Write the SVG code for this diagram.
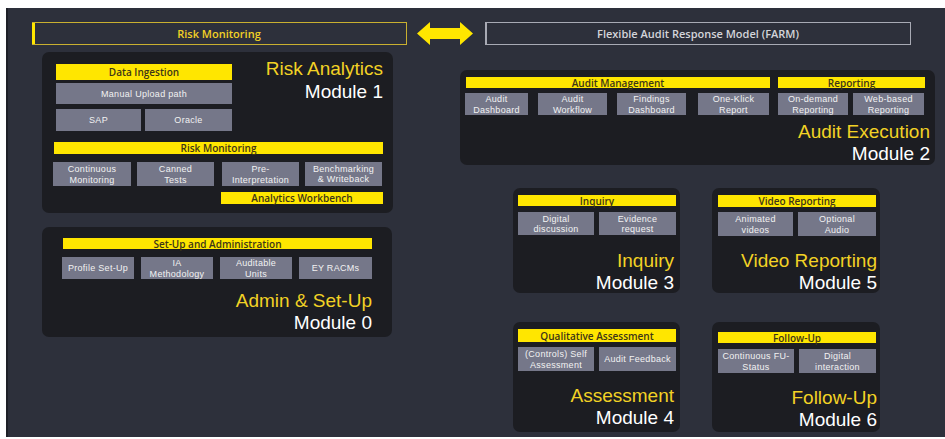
<svg xmlns="http://www.w3.org/2000/svg" width="945" height="439" viewBox="0 0 945 439">
<defs>
<style>
.bg{fill:#2d303b}
.mod{fill:#1c1d22}
.bar{fill:#ffe600}
.box{fill:#757789}
.bt{font-family:"Open Sans","Liberation Sans",sans-serif;font-size:10px;font-weight:600;fill:#3d3517;text-anchor:middle}
.bx{font-family:"Liberation Sans","Open Sans",sans-serif;font-size:9px;letter-spacing:0.3px;fill:#f2f2f2;text-anchor:middle}
.ti{font-family:"Liberation Sans","Open Sans",sans-serif;font-size:19px;fill:#f2d225;text-anchor:end}
.mo{font-family:"Liberation Sans","Open Sans",sans-serif;font-size:19px;fill:#ffffff;text-anchor:end}
.hd{font-family:"Open Sans","Liberation Sans",sans-serif;font-size:11px;font-weight:600;text-anchor:middle}
</style>
</defs>
<rect x="0" y="0" width="945" height="439" fill="#ffffff"/>
<rect class="bg" x="6" y="8" width="939" height="429"/>
<rect x="6" y="8" width="2" height="429" fill="#1e2027"/>

<g id="header-risk">
<rect x="32.5" y="22.5" width="374" height="22" fill="none" stroke="#c9b030" stroke-width="1"/>
<rect x="32" y="23" width="3" height="21" fill="#ffe600"/>
<text class="hd" x="219" y="38" fill="#f2d225">Risk Monitoring</text>
</g>
<g id="header-farm">
<rect x="485.5" y="22.5" width="425" height="22" fill="none" stroke="#a8aab4" stroke-width="1"/>
<rect x="485" y="23" width="2" height="21" fill="#a8aab4"/>
<text class="hd" x="698" y="38" fill="#d4d5da">Flexible Audit Response Model (FARM)</text>
</g>
<g id="connectors">
<polygon points="417,33.5 430,22 430,28 460,28 460,22 473,33.5 460,45 460,39 430,39 430,45" fill="#ffe600"/>
</g>

<g id="module1">
<rect class="mod" x="42" y="52" width="351" height="161" rx="7"/>
<rect class="bar" x="56" y="64" width="176" height="16"/>
<text class="bt" x="144" y="76">Data Ingestion</text>
<rect class="box" x="56" y="83" width="176" height="21"/>
<text class="bx" x="144" y="97">Manual Upload path</text>
<rect class="box" x="56" y="109" width="85" height="22"/>
<text class="bx" x="98.5" y="123">SAP</text>
<rect class="box" x="145" y="109" width="87" height="22"/>
<text class="bx" x="188.5" y="123">Oracle</text>
<text class="ti" x="383" y="75">Risk Analytics</text>
<text class="mo" x="383" y="98">Module 1</text>
<rect class="bar" x="54" y="142" width="329" height="12"/>
<text class="bt" x="218.5" y="152">Risk Monitoring</text>
<rect class="box" x="53" y="162" width="78" height="24"/>
<text class="bx" x="92" y="172">Continuous</text><text class="bx" x="92" y="182.5">Monitoring</text>
<rect class="box" x="137" y="162" width="77" height="24"/>
<text class="bx" x="175.5" y="172">Canned</text><text class="bx" x="175.5" y="182.5">Tests</text>
<rect class="box" x="222" y="162" width="77" height="24"/>
<text class="bx" x="260.5" y="172">Pre-</text><text class="bx" x="260.5" y="182.5">Interpretation</text>
<rect class="box" x="305" y="162" width="77" height="24"/>
<text class="bx" x="343.5" y="171.5">Benchmarking</text><text class="bx" x="343.5" y="182">&amp; Writeback</text>
<rect class="bar" x="221" y="192" width="162" height="12"/>
<text class="bt" x="302" y="202">Analytics Workbench</text>
</g>

<g id="module0">
<rect class="mod" x="42" y="227" width="350" height="110" rx="7"/>
<rect class="bar" x="63" y="238" width="309" height="11"/>
<text class="bt" x="217.5" y="247.5">Set-Up and Administration</text>
<rect class="box" x="62" y="257" width="72" height="22"/>
<text class="bx" x="98" y="271">Profile Set-Up</text>
<rect class="box" x="141" y="257" width="72" height="22"/>
<text class="bx" x="177" y="266">IA</text><text class="bx" x="177" y="276.5">Methodology</text>
<rect class="box" x="220" y="257" width="72" height="22"/>
<text class="bx" x="256" y="266">Auditable</text><text class="bx" x="256" y="276.5">Units</text>
<rect class="box" x="299" y="257" width="73" height="22"/>
<text class="bx" x="335.5" y="271">EY RACMs</text>
<text class="ti" x="372" y="307">Admin &amp; Set-Up</text>
<text class="mo" x="372" y="329">Module 0</text>
</g>

<g id="module2">
<rect class="mod" x="460" y="70" width="475" height="95" rx="7"/>
<rect class="bar" x="466" y="77" width="304" height="11"/>
<text class="bt" x="618" y="86.5">Audit Management</text>
<rect class="bar" x="778" y="77" width="147" height="11"/>
<text class="bt" x="851.5" y="86.5">Reporting</text>
<rect class="box" x="465" y="93" width="63" height="22"/>
<text class="bx" x="496.5" y="102">Audit</text><text class="bx" x="496.5" y="112.5">Dashboard</text>
<rect class="box" x="538" y="93" width="69" height="22"/>
<text class="bx" x="572.5" y="102">Audit</text><text class="bx" x="572.5" y="112.5">Workflow</text>
<rect class="box" x="617" y="93" width="69" height="22"/>
<text class="bx" x="651.5" y="102">Findings</text><text class="bx" x="651.5" y="112.5">Dashboard</text>
<rect class="box" x="698" y="93" width="71" height="22"/>
<text class="bx" x="733.5" y="102">One-Klick</text><text class="bx" x="733.5" y="112.5">Report</text>
<rect class="box" x="778" y="93" width="70" height="22"/>
<text class="bx" x="813" y="102">On-demand</text><text class="bx" x="813" y="112.5">Reporting</text>
<rect class="box" x="853" y="93" width="71" height="22"/>
<text class="bx" x="888.5" y="102">Web-based</text><text class="bx" x="888.5" y="112.5">Reporting</text>
<text class="ti" x="930" y="138">Audit Execution</text>
<text class="mo" x="930" y="160">Module 2</text>
</g>

<g id="module3">
<rect class="mod" x="513" y="188" width="167" height="105" rx="7"/>
<rect class="bar" x="518" y="195" width="158" height="11"/>
<text class="bt" x="597" y="204.5">Inquiry</text>
<rect class="box" x="518" y="212" width="76" height="23"/>
<text class="bx" x="556" y="221.5">Digital</text><text class="bx" x="556" y="232">discussion</text>
<rect class="box" x="599" y="212" width="77" height="23"/>
<text class="bx" x="637.5" y="221.5">Evidence</text><text class="bx" x="637.5" y="232">request</text>
<text class="ti" x="674" y="266.5">Inquiry</text>
<text class="mo" x="674" y="288.5">Module 3</text>
</g>

<g id="module5">
<rect class="mod" x="712" y="188" width="168" height="105" rx="7"/>
<rect class="bar" x="718" y="195" width="158" height="12"/>
<text class="bt" x="797" y="205">Video Reporting</text>
<rect class="box" x="718" y="212" width="75" height="24"/>
<text class="bx" x="755.5" y="222">Animated</text><text class="bx" x="755.5" y="232.5">videos</text>
<rect class="box" x="798" y="212" width="78" height="24"/>
<text class="bx" x="837" y="222">Optional</text><text class="bx" x="837" y="232.5">Audio</text>
<text class="ti" x="877" y="266.5">Video Reporting</text>
<text class="mo" x="877" y="288.5">Module 5</text>
</g>

<g id="module4">
<rect class="mod" x="513" y="322" width="167" height="110" rx="7"/>
<rect class="bar" x="518" y="329" width="158" height="13"/>
<text class="bt" x="597" y="339.5">Qualitative Assessment</text>
<rect class="box" x="518" y="347" width="76" height="24"/>
<text class="bx" x="556" y="357">(Controls) Self</text><text class="bx" x="556" y="367.5">Assessment</text>
<rect class="box" x="599" y="347" width="77" height="24"/>
<text class="bx" x="637.5" y="362">Audit Feedback</text>
<text class="ti" x="674" y="402">Assessment</text>
<text class="mo" x="674" y="424">Module 4</text>
</g>

<g id="module6">
<rect class="mod" x="712" y="322" width="168" height="110" rx="7"/>
<rect class="bar" x="718" y="332" width="158" height="11"/>
<text class="bt" x="797" y="341.5">Follow-Up</text>
<rect class="box" x="718" y="349" width="76" height="24"/>
<text class="bx" x="756" y="359">Continuous FU-</text><text class="bx" x="756" y="369.5">Status</text>
<rect class="box" x="799" y="349" width="77" height="24"/>
<text class="bx" x="837.5" y="359">Digital</text><text class="bx" x="837.5" y="369.5">interaction</text>
<text class="ti" x="877" y="403.5">Follow-Up</text>
<text class="mo" x="877" y="425.5">Module 6</text>
</g>
</svg>
